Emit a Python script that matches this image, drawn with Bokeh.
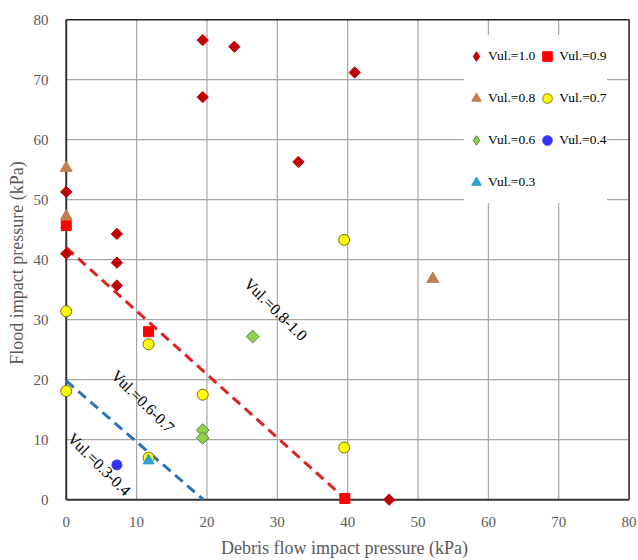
import math
from bokeh.plotting import figure
from bokeh.models import Legend, LegendItem, Range1d, FixedTicker
from bokeh.core.properties import value
from bokeh.embed import file_html
from bokeh.resources import INLINE

# ---- data ----
v10_x = [19.4, 23.9, 19.4, 33.0, 41.0, 0.0, 7.2, 7.2, 0.0, 7.2, 45.9]
v10_y = [76.6, 75.5, 67.1, 56.3, 71.2, 51.3, 44.3, 39.5, 41.0, 35.7, 0.0]
v09_x = [0.0, 11.7, 39.6]
v09_y = [45.7, 28.0, 0.2]
v08_x = [0.0, 0.0, 52.1]
v08_y = [55.3, 47.2, 36.8]
v07_x = [0.0, 0.0, 11.7, 19.4, 11.7, 39.5, 39.5]
v07_y = [31.4, 18.1, 25.9, 17.5, 7.0, 43.3, 8.7]
v06_x = [26.5, 19.4, 19.4]
v06_y = [27.2, 11.6, 10.3]
v04_x = [7.2]
v04_y = [5.8]
v03_x = [11.7]
v03_y = [6.5]

line_hi_x = [0.0, 39.8]
line_hi_y = [42.0, 0.0]
line_lo_x = [0.0, 19.5]
line_lo_y = [19.8, 0.0]

lbl_text = ["Vul.=0.8-1.0", "Vul.=0.6-0.7", "Vul.=0.3-0.4"]
lbl_x = [29.8, 10.9, 4.7]
lbl_y = [31.7, 16.4, 5.9]

ticks = [0, 10, 20, 30, 40, 50, 60, 70, 80]

SERIF = "Liberation Serif"
lo, hi = ticks[0], ticks[-1]
NAN = float("nan")

p = figure(width=638, height=560, output_backend="svg", toolbar_location=None,
           x_range=Range1d(lo - 1.1, hi + 0.2), y_range=Range1d(lo - 1.3, hi + 0.2),
           min_border_left=58, min_border_right=8, min_border_top=18, min_border_bottom=51)

p.background_fill_color = "white"
p.border_fill_color = "white"
p.outline_line_color = None
p.xgrid.visible = False
p.ygrid.visible = False

for ax in (p.xaxis[0], p.yaxis[0]):
    ax.ticker = FixedTicker(ticks=ticks)
    ax.major_tick_line_color = None
    ax.minor_tick_line_color = None
    ax.axis_line_color = None
    ax.major_label_text_font = SERIF
    ax.major_label_text_font_size = "15px"
    ax.major_label_text_color = "#595959"
    ax.axis_label_text_font = SERIF
    ax.axis_label_text_font_size = "18px"
    ax.axis_label_text_font_style = "normal"
    ax.axis_label_text_color = "#595959"

p.xaxis.axis_label = "Debris flow impact pressure (kPa)"
p.yaxis.axis_label = "Flood impact pressure (kPa)"
p.xaxis.major_label_standoff = 3
p.xaxis.axis_label_standoff = 8
p.yaxis.major_label_standoff = 4
p.yaxis.axis_label_standoff = 4

# grid lines (from tick list)
inner = ticks[1:-1]
p.segment(x0=inner, y0=[lo] * len(inner), x1=inner, y1=[hi] * len(inner),
          line_color="#A6A6A6", line_width=1.2, level="underlay")
p.segment(x0=[lo] * len(inner), y0=inner, x1=[hi] * len(inner), y1=inner,
          line_color="#A6A6A6", line_width=1.2, level="underlay")
# frame: axis lines (left/bottom) and top/right border
p.line([lo, lo], [lo, hi], line_color="#333333", line_width=2)
p.line([lo, hi], [lo, lo], line_color="#333333", line_width=2)
p.line([lo, hi, hi], [hi, hi, lo], line_color="#222222", line_width=1.5)

# lines
p.line(line_hi_x, line_hi_y, line_color="#DD2222", line_width=3, line_dash="10 6")
p.line(line_lo_x, line_lo_y, line_color="#2A74B5", line_width=3, line_dash="10 6")

# labels
p.text(x=lbl_x, y=lbl_y, text=lbl_text, angle=-0.78,
       text_font=value(SERIF), text_font_size="16px", text_color="black",
       text_align="center", text_baseline="middle")

LV = "annotation"
p.scatter(v10_x, v10_y, marker="square", angle=math.pi / 4, size=8,
          fill_color="#C00000", line_color="#C00000", level=LV)
p.scatter(v09_x, v09_y, marker="square", size=10,
          fill_color="#FF0000", line_color="#FF0000", level=LV)
p.scatter(v08_x, v08_y, marker="triangle", size=12,
          fill_color="#C0804F", line_color="#C0804F", level=LV)
p.scatter(v07_x, v07_y, marker="circle", size=11,
          fill_color="#FFFF00", line_color="#7A6A18", line_width=1, level=LV)
p.scatter(v06_x, v06_y, marker="square", angle=math.pi / 4, size=9,
          fill_color="#92D050", line_color="#4E8A2E", line_width=1, level=LV)
p.scatter(v04_x, v04_y, marker="circle", size=10,
          fill_color="#3333FF", line_color="#3333FF", level=LV)
p.scatter(v03_x, v03_y, marker="triangle", size=11,
          fill_color="#2E9FD8", line_color="#2E9FD8", level=LV)

# legend-only glyph renderers (NaN data: nothing drawn in the plot)
g10 = p.scatter([NAN], [NAN], marker="diamond", fill_color="#C00000", line_color="#C00000")
g09 = p.scatter([NAN], [NAN], marker="square", fill_color="#FF0000", line_color="#FF0000")
g08 = p.scatter([NAN], [NAN], marker="triangle", fill_color="#C0804F", line_color="#C0804F")
g07 = p.scatter([NAN], [NAN], marker="circle", fill_color="#FFFF00", line_color="#7A6A18")
g06 = p.scatter([NAN], [NAN], marker="diamond", fill_color="#92D050", line_color="#4E8A2E")
g04 = p.scatter([NAN], [NAN], marker="circle", fill_color="#3333FF", line_color="#3333FF")
g03 = p.scatter([NAN], [NAN], marker="triangle", fill_color="#2E9FD8", line_color="#2E9FD8")

legend = Legend(items=[
    LegendItem(label="Vul.=1.0", renderers=[g10]),
    LegendItem(label="Vul.=0.8", renderers=[g08]),
    LegendItem(label="Vul.=0.6", renderers=[g06]),
    LegendItem(label="Vul.=0.3", renderers=[g03]),
    LegendItem(label="Vul.=0.9", renderers=[g09]),
    LegendItem(label="Vul.=0.7", renderers=[g07]),
    LegendItem(label="Vul.=0.4", renderers=[g04]),
], nrows=4, location=(406, 304))
legend.background_fill_color = "white"
legend.background_fill_alpha = 1.0
legend.border_line_color = None
legend.label_text_font = SERIF
legend.label_text_font_size = "13.5px"
legend.label_text_color = "black"
legend.glyph_width = 24
legend.glyph_height = 26
legend.label_height = 42
legend.label_standoff = -5
legend.spacing = 0
legend.padding = 2
legend.margin = 0
p.add_layout(legend)

open("out.html", "w").write(file_html(p, INLINE))
